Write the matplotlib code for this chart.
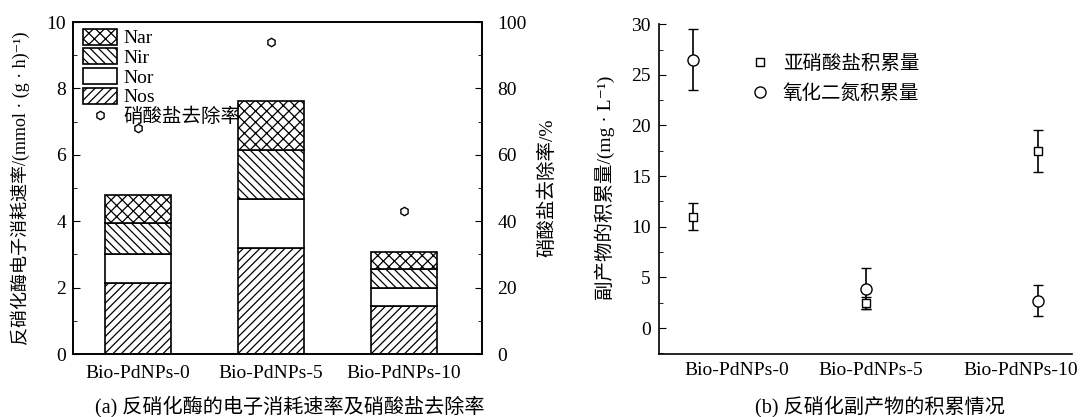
import matplotlib
matplotlib.use("Agg")
import matplotlib.pyplot as plt
from matplotlib.patches import Patch
from matplotlib.lines import Line2D
from matplotlib.ticker import MultipleLocator
import numpy as np

plt.rcParams['font.family'] = ['Liberation Serif', 'Noto Sans CJK SC', 'DejaVu Serif']
plt.rcParams['font.size'] = 14
plt.rcParams['hatch.linewidth'] = 0.9
plt.rcParams['axes.linewidth'] = 1.2

categories = ['Bio-PdNPs-0', 'Bio-PdNPs-5', 'Bio-PdNPs-10']

# (a) electron consumption rates, stacked
nos = [2.13, 3.18, 1.45]
nor = [0.88, 1.49, 0.55]
nir = [0.93, 1.47, 0.55]
nar = [0.85, 1.49, 0.51]
removal = [68, 94, 43]

# (b) by-product accumulation
nitrite = [11.0, 2.5, 17.5]
nitrite_err = [1.3, 0.6, 2.1]
n2o = [26.5, 3.9, 2.7]
n2o_err = [3.0, 2.0, 1.5]

fig = plt.figure(figsize=(10.8, 4.17), dpi=100)

# ---- panel (a) ----
ax = fig.add_axes([0.0676, 0.151, 0.3787, 0.796])
x = np.arange(len(categories))
w = 0.5
bottom = np.zeros(len(categories))
stack = [(nos, '////', 'Nos'), (nor, '', 'Nor'), (nir, '\\\\\\\\', 'Nir'), (nar, 'xxx', 'Nar')]
handles = {}
for vals, hatch, name in stack:
    ax.bar(x, vals, w, bottom=bottom, color='white', edgecolor='black',
           hatch=hatch, linewidth=1.2)
    bottom += np.array(vals)
    handles[name] = Patch(facecolor='white', edgecolor='black', hatch=hatch, linewidth=1.2)

ax.set_xlim(-0.49, 2.586)
ax.set_ylim(0, 10)
ax.set_xticks(x)
ax.set_xticklabels(categories)
ax.tick_params(axis='x', length=0, pad=8)
ax.yaxis.set_major_locator(MultipleLocator(2))
ax.yaxis.set_minor_locator(MultipleLocator(1))
ax.tick_params(axis='y', which='both', direction='in', pad=5)
ax.tick_params(axis='y', which='major', length=5)
ax.tick_params(axis='y', which='minor', length=3)
ax.set_ylabel('反硝化酶电子消耗速率/(mmol · (g · h)⁻¹)', fontsize=13)
ax.yaxis.set_label_coords(-0.105, 0.5)

ax2 = ax.twinx()
ax2.plot(x, removal, linestyle='none', marker='h', markersize=6,
         markerfacecolor='white', markeredgecolor='black', markeredgewidth=1.0)
ax2.set_ylim(0, 100)
ax2.yaxis.set_major_locator(MultipleLocator(20))
ax2.yaxis.set_minor_locator(MultipleLocator(10))
ax2.tick_params(axis='y', which='both', direction='in', pad=11)
ax2.tick_params(axis='y', which='major', length=5)
ax2.tick_params(axis='y', which='minor', length=3)
ax2.set_ylabel('硝酸盐去除率/%', fontsize=14)
ax2.yaxis.set_label_coords(1.137, 0.5)

leg_handles = [handles['Nar'], handles['Nir'], handles['Nor'], handles['Nos'],
               Line2D([], [], linestyle='none', marker='h', markersize=6,
                      markerfacecolor='white', markeredgecolor='black')]
ax2.legend(leg_handles, ['Nar', 'Nir', 'Nor', 'Nos', '硝酸盐去除率'],
           loc='upper left', bbox_to_anchor=(0.025, 0.98), frameon=False,
           borderpad=0, borderaxespad=0, handlelength=1.75, handleheight=0.88,
           handletextpad=0.3, labelspacing=0.05, fontsize=14)

# ---- panel (b) ----
bx = fig.add_axes([0.6102, 0.151, 0.3824, 0.791])
bx.errorbar(x, nitrite, yerr=nitrite_err, fmt='s', markersize=6,
            markerfacecolor='white', markeredgecolor='black', markeredgewidth=1.0,
            ecolor='black', elinewidth=1.2, capsize=3.5, capthick=1.2,
            label='亚硝酸盐积累量')
bx.errorbar(x, n2o, yerr=n2o_err, fmt='o', markersize=8,
            markerfacecolor='white', markeredgecolor='black', markeredgewidth=1.0,
            ecolor='black', elinewidth=1.2, capsize=3.5, capthick=1.2,
            label='氧化二氮积累量')
bx.set_xlim(-0.2, 2.2)
bx.set_ylim(-2.57, 30)
bx.spines['top'].set_visible(False)
bx.spines['right'].set_visible(False)
bx.set_xticks([0.25, 1.03, 1.9])
bx.set_xticklabels(categories)
bx.tick_params(axis='x', length=0, pad=6)
bx.yaxis.set_major_locator(MultipleLocator(5))
bx.yaxis.set_minor_locator(MultipleLocator(2.5))
bx.tick_params(axis='y', which='both', direction='in', pad=6)
bx.tick_params(axis='y', which='major', length=5)
bx.tick_params(axis='y', which='minor', length=3)
bx.set_ylabel('副产物的积累量/(mg · L⁻¹)', fontsize=14)
bx.yaxis.set_label_coords(-0.107, 0.505)

h, l = bx.get_legend_handles_labels()
h = [hh[0] for hh in h]
bx.legend(h, l, loc='upper left', bbox_to_anchor=(0.22, 0.908), frameon=False,
          borderpad=0, borderaxespad=0, handlelength=1.0, handletextpad=0.7,
          labelspacing=0.6, fontsize=14)

fig.text(0.2685, 0.024, '(a) 反硝化酶的电子消耗速率及硝酸盐去除率', ha='center', va='center', fontsize=14.5)
fig.text(0.815, 0.024, '(b) 反硝化副产物的积累情况', ha='center', va='center', fontsize=14.5)

fig.savefig('out.png', dpi=100)
